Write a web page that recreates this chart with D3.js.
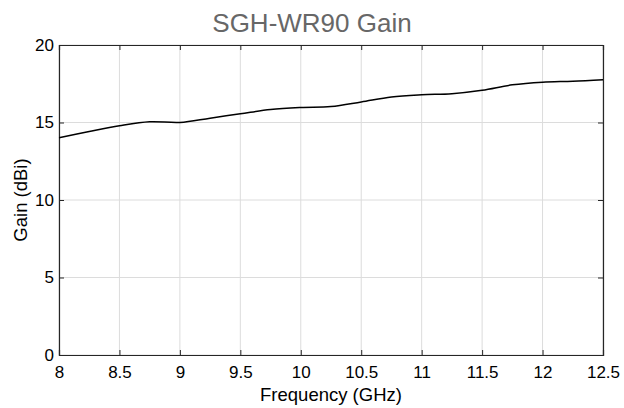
<!DOCTYPE html>
<html><head><meta charset="utf-8">
<script src="https://cdn.jsdelivr.net/npm/d3@7"></script>
<style>
body{margin:0;background:#fff;}
svg{display:block;font-family:"Liberation Sans",Arial,Helvetica,sans-serif;}
</style></head>
<body>
<svg id="c" width="624" height="408"></svg>
<script>
const freq = [8.0, 8.25, 8.5, 8.75, 9.0, 9.25, 9.5, 9.75, 10.0, 10.25, 10.5, 10.75, 11.0, 11.25, 11.5, 11.75, 12.0, 12.25, 12.5];
const gain = [14.02, 14.42, 14.79, 15.05, 15.0, 15.28, 15.56, 15.84, 15.97, 16.03, 16.33, 16.65, 16.79, 16.86, 17.08, 17.43, 17.6, 17.66, 17.76];
const xTicks = [8, 8.5, 9, 9.5, 10, 10.5, 11, 11.5, 12, 12.5];
const yTicks = [0, 5, 10, 15, 20];

const svg = d3.select("#c");
const L = 59, R = 603, T = 45, B = 355;
const x = d3.scaleLinear().domain([8, 12.5]).range([L, R]);
const y = d3.scaleLinear().domain([0, 20]).range([B, T]);

// grid
svg.append("g").selectAll("line").data(xTicks).join("line")
  .attr("x1", d => x(d)).attr("x2", d => x(d)).attr("y1", T).attr("y2", B)
  .attr("stroke", "#dcdcdc").attr("stroke-width", 1);
svg.append("g").selectAll("line").data(yTicks).join("line")
  .attr("x1", L).attr("x2", R).attr("y1", d => y(d)).attr("y2", d => y(d))
  .attr("stroke", "#dcdcdc").attr("stroke-width", 1);

// axes
const axColor = "#262626";
const gx = svg.append("g").attr("transform", `translate(0,${B})`)
  .call(d3.axisBottom(x).tickValues(xTicks).tickSize(-5).tickPadding(11).tickFormat(d => String(d)));
const gxt = svg.append("g").attr("transform", `translate(0,${T})`)
  .call(d3.axisTop(x).tickValues(xTicks).tickSize(-5).tickFormat(""));
const gy = svg.append("g").attr("transform", `translate(${L},0)`)
  .call(d3.axisLeft(y).tickValues(yTicks).tickSize(-5).tickPadding(5).tickFormat(d => String(d)));
const gyr = svg.append("g").attr("transform", `translate(${R},0)`)
  .call(d3.axisRight(y).tickValues(yTicks).tickSize(-5).tickFormat(""));
[gx, gxt, gy, gyr].forEach(g => {
  g.select(".domain").attr("stroke", axColor).attr("stroke-width", 1.2);
  g.selectAll(".tick line").attr("stroke", axColor);
  g.selectAll("text").attr("fill", "#000").style("font-size", "17px")
    .style("font-family", '"Liberation Sans",Arial,sans-serif');
});

// line
const line = d3.line().x((d, i) => x(freq[i])).y(d => y(d)).curve(d3.curveCatmullRom.alpha(0.5));
svg.append("path").datum(gain).attr("d", line)
  .attr("fill", "none").attr("stroke", "#000").attr("stroke-width", 1.5);

// labels
svg.append("text").attr("x", 312).attr("y", 32).attr("text-anchor", "middle")
  .style("font-size", "26px").attr("fill", "#676767").text("SGH-WR90 Gain");
svg.append("text").attr("x", (L + R) / 2).attr("y", 401).attr("text-anchor", "middle")
  .style("font-size", "18.5px").attr("fill", "#000").text("Frequency (GHz)");
svg.append("text").attr("transform", `translate(27,${(T + B) / 2}) rotate(-90)`).attr("text-anchor", "middle")
  .style("font-size", "18.5px").attr("fill", "#000").text("Gain (dBi)");
</script>
</body></html>
